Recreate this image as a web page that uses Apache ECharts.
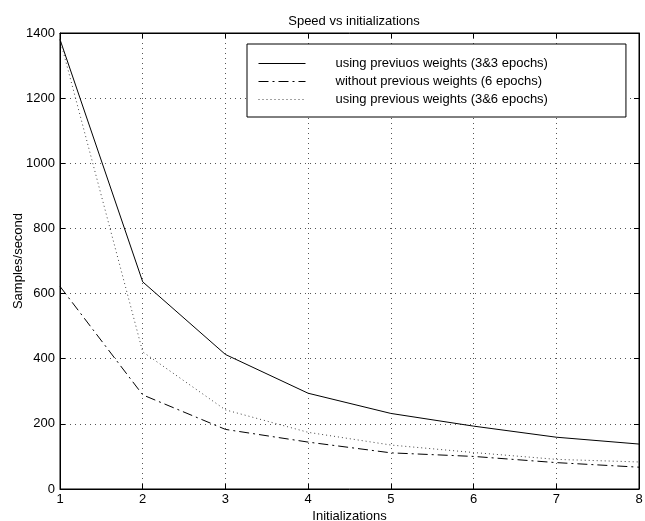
<!DOCTYPE html>
<html>
<head>
<meta charset="utf-8">
<script src="https://cdn.jsdelivr.net/npm/echarts@6/dist/echarts.min.js"></script>
<style>
html,body{margin:0;padding:0;background:#fff;}
#chart{width:645px;height:521px;}
</style>
</head>
<body>
<div id="chart"></div>
<script>
const initializations = [1, 2, 3, 4, 5, 6, 7, 8];
const prevWeights33 = [1380, 636, 413, 294, 232, 193, 159, 138];
const withoutPrev6 = [622, 289, 183, 144, 111, 100, 81, 67];
const prevWeights36 = [1380, 421, 243, 174, 135, 112, 91, 83];
const seriesNames = [
  'using previuos weights (3&3 epochs)',
  'without previous weights (6 epochs)',
  'using previous weights (3&6 epochs)'
];
const yTicks = [0, 200, 400, 600, 800, 1000, 1200, 1400];

const FONT = 'Liberation Sans, Arial, Helvetica, sans-serif';
const pairs = arr => initializations.map((x, i) => [x, arr[i]]);

const chart = echarts.init(document.getElementById('chart'), null, {renderer: 'canvas'});
const gridDots = {show: true, lineStyle: {color: '#555', width: 1, type: [1, 4]}};
const baseX = {
  type: 'value', min: 1, max: 8, interval: 1,
  axisLine: {show: true, onZero: false, lineStyle: {color: '#000', width: 1}},
  axisTick: {show: true, inside: true, length: 5, lineStyle: {color: '#000'}},
};
const baseY = {
  type: 'value', min: yTicks[0], max: yTicks[yTicks.length - 1], interval: 200,
  axisLine: {show: true, lineStyle: {color: '#000', width: 1}},
  axisTick: {show: true, inside: true, length: 5, lineStyle: {color: '#000'}},
};
chart.setOption({
  animation: false,
  backgroundColor: '#fff',
  title: {
    text: 'Speed vs initializations', left: 349, top: 10, textAlign: 'center',
    textStyle: {fontFamily: FONT, fontSize: 13, fontWeight: 'normal', color: '#000'}
  },
  grid: {left: 60, right: 6, top: 33, bottom: 32, show: true, borderColor: '#000', borderWidth: 1,
         containLabel: false, outerBoundsMode: 'none'},
  legend: {
    orient: 'vertical', left: 247, top: 44,
    backgroundColor: '#fff', borderColor: '#000', borderWidth: 1,
    padding: [13, 78, 11, 11],
    itemWidth: 47, itemHeight: 14, itemGap: 5,
    itemStyle: {opacity: 0, borderWidth: 0},
    lineStyle: {width: 1},
    textStyle: {fontFamily: FONT, fontSize: 13, color: '#000', padding: [0, 0, 0, 25]},
    data: seriesNames
  },
  xAxis: [
    Object.assign({}, baseX, {
      position: 'bottom',
      name: 'Initializations', nameLocation: 'middle', nameGap: 21, nameMoveOverlap: false,
      nameTextStyle: {fontFamily: FONT, fontSize: 13, color: '#000'},
      axisLabel: {fontFamily: FONT, fontSize: 13, color: '#000', margin: 4},
      splitLine: gridDots
    }),
    Object.assign({}, baseX, {position: 'top', axisLabel: {show: false}, splitLine: {show: false}})
  ],
  yAxis: [
    Object.assign({}, baseY, {
      position: 'left',
      name: 'Samples/second', nameLocation: 'middle', nameGap: 42, nameRotate: 90, nameMoveOverlap: false,
      nameTextStyle: {fontFamily: FONT, fontSize: 13, color: '#000', verticalAlign: 'middle'},
      axisLabel: {fontFamily: FONT, fontSize: 13, color: '#000', margin: 5, formatter: v => String(v)},
      splitLine: gridDots
    }),
    Object.assign({}, baseY, {position: 'right', axisLabel: {show: false}, splitLine: {show: false}})
  ],
  series: [
    {name: seriesNames[0], type: 'line', data: pairs(prevWeights33), symbol: 'none',
     lineStyle: {color: '#000', width: 1, type: 'solid'}, itemStyle: {color: '#000'}},
    {name: seriesNames[1], type: 'line', data: pairs(withoutPrev6), symbol: 'none',
     lineStyle: {color: '#000', width: 1, type: [10, 4, 2, 4]}, itemStyle: {color: '#000'}},
    {name: seriesNames[2], type: 'line', data: pairs(prevWeights36), symbol: 'none',
     lineStyle: {color: '#444', width: 1, type: [1, 3]}, itemStyle: {color: '#444'}}
  ]
});
</script>
</body>
</html>
